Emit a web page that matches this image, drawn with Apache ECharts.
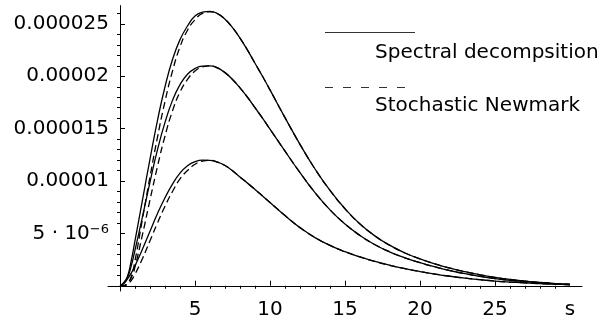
<!DOCTYPE html>
<html><head><meta charset="utf-8">
<script src="https://cdn.jsdelivr.net/npm/echarts@6/dist/echarts.min.js"></script>
<style>html,body{margin:0;padding:0;background:#fff}#c{width:606px;height:320px}</style>
</head><body><div id="c"></div>
<script>
// time axis (s)
const sValues = [0,0.25,0.5,0.75,1,1.5,2,2.5,3,3.5,4,4.5,5,5.5,6,6.5,7,7.5,8,8.5,9,9.5,10,11,12,13,14,15,16,17,18,19,20,21,22,23,24,25,26,27,28,29,30];
// values in units of 1e-6
const spectralTop = [0,0.3,0.9,2.4,4.3,8.2,12.1,15.8,19.0,21.6,23.5,24.8,25.75,26.12,26.2,25.98,25.45,24.65,23.65,22.5,21.25,20.0,18.7,16.05,13.5,11.15,9.1,7.35,5.9,4.75,3.85,3.13,2.56,2.08,1.68,1.34,1.05,0.8,0.6,0.44,0.31,0.21,0.14];
const spectralMid = [0,0.28,0.8,1.9,3.4,6.6,9.9,13.0,15.6,17.7,19.2,20.2,20.75,20.98,21.0,20.8,20.35,19.7,18.9,18.0,17.0,16.0,14.95,12.85,10.8,8.9,7.25,5.9,4.8,3.92,3.22,2.66,2.2,1.8,1.45,1.15,0.9,0.69,0.52,0.39,0.28,0.19,0.12];
const spectralLow = [0,0.2,0.65,1.2,1.9,3.5,5.2,6.9,8.4,9.7,10.75,11.45,11.85,12.0,11.98,11.8,11.48,10.98,10.38,9.8,9.2,8.58,7.95,6.7,5.55,4.6,3.85,3.25,2.75,2.32,1.95,1.63,1.36,1.12,0.91,0.73,0.58,0.45,0.35,0.27,0.2,0.15,0.1];
const newmarkTop = [0,0,0.25,0.9,2.4,6.4,10.4,14.2,17.6,20.5,22.8,24.4,25.4,26.0,26.15,25.98,25.45,24.65,23.65,22.5,21.25,20.0,18.7,16.05,13.5,11.15,9.1,7.35,5.9,4.75,3.85,3.13,2.56,2.08,1.68,1.34,1.05,0.8,0.6,0.44,0.31,0.21,0.14];
const newmarkMid = [0,0,0.25,0.75,1.8,4.9,8.2,11.4,14.3,16.7,18.5,19.7,20.5,20.9,21.0,20.8,20.35,19.7,18.9,18.0,17.0,16.0,14.95,12.85,10.8,8.9,7.25,5.9,4.8,3.92,3.22,2.66,2.2,1.8,1.45,1.15,0.9,0.69,0.52,0.39,0.28,0.19,0.12];
const newmarkLow = [0,0,0.15,0.5,1.1,2.6,4.3,6.0,7.6,9.0,10.2,11.0,11.6,11.9,11.97,11.8,11.48,10.98,10.38,9.8,9.2,8.58,7.95,6.7,5.55,4.6,3.85,3.25,2.75,2.32,1.95,1.63,1.36,1.12,0.91,0.73,0.58,0.45,0.35,0.27,0.2,0.15,0.1];
const UNIT = 1e-6;

const xMajorTicks = [5,10,15,20,25,30];
const xTickLabels = ['5','10','15','20','25','s'];
const yMajorTicks = [5,10,15,20,25];       // in 1e-6
const yTickLabels = ['5 \u00b7 10{sup|\u22126}','0.00001','0.000015','0.00002','0.000025'];
const legendNames = ['Spectral decompsition','Stochastic Newmark'];

const FONT = 'DejaVu Sans';
const xMinor = []; for (let i = 1; i <= 30; i++) if (i % 5 !== 0) xMinor.push(i);
const yMinor = []; for (let i = 1; i <= 26; i++) if (i % 5 !== 0) yMinor.push(i * UNIT);

function pts(arr){ return sValues.map((s,i)=>[s, arr[i]*UNIT]); }
function mk(arr, dashed){
  return {type:'line', data:pts(arr), smooth:0.5, showSymbol:false, symbol:'none',
    lineStyle:{color:'#000', width:1.3, type: dashed ? [7,4] : 'solid'}, silent:true, animation:false,
    xAxisIndex:0, yAxisIndex:0, z: dashed ? 3 : 2};
}

const chart = echarts.init(document.getElementById('c'), null, {renderer:'canvas'});
const baseX = {type:'value', min:-0.8, max:30.8, splitLine:{show:false}};
const baseY = {type:'value', min:-0.5*UNIT, max:26.75*UNIT, splitLine:{show:false}};
chart.setOption({
  animation:false,
  backgroundColor:'#fff',
  grid:{left:108, right:24, top:5.6, bottom:23.7, containLabel:false},
  xAxis:[
    Object.assign({}, baseX, {
      axisLine:{onZero:true, onZeroAxisIndex:0, lineStyle:{color:'#000', width:1}},
      axisTick:{show:true, inside:true, length:5, lineStyle:{color:'#000'}, customValues: xMajorTicks.slice(0,5)},
      axisLabel:{show:true, margin:9, color:'#000', fontFamily:FONT, fontSize:20, customValues: xMajorTicks,
        formatter:function(v){ const i = xMajorTicks.findIndex(t=>Math.abs(t-v)<1e-9); return i<0?'':xTickLabels[i]; }}
    }),
    Object.assign({}, baseX, {
      axisLine:{show:false, onZero:true, onZeroAxisIndex:0},
      axisTick:{show:true, inside:true, length:3, lineStyle:{color:'#000'}, customValues:xMinor},
      axisLabel:{show:false}
    })
  ],
  yAxis:[
    Object.assign({}, baseY, {
      axisLine:{onZero:true, onZeroAxisIndex:0, lineStyle:{color:'#000', width:1}},
      axisTick:{show:true, inside:true, length:5, lineStyle:{color:'#000'}, customValues: yMajorTicks.map(v=>v*UNIT)},
      axisLabel:{show:true, margin:-1, color:'#000', fontFamily:FONT, fontSize:20, customValues: yMajorTicks.map(v=>v*UNIT),
        formatter:function(v){ const i = yMajorTicks.findIndex(t=>Math.abs(t*UNIT-v)<1e-12); return i<0?'':yTickLabels[i]; },
        rich:{sup:{fontSize:13, fontFamily:FONT, color:'#000', verticalAlign:'top', lineHeight:13}}}
    }),
    Object.assign({}, baseY, {
      axisLine:{show:false, onZero:true, onZeroAxisIndex:0},
      axisTick:{show:true, inside:true, length:3, lineStyle:{color:'#000'}, customValues:yMinor},
      axisLabel:{show:false}
    })
  ],
  series:[ mk(spectralTop,false), mk(spectralMid,false), mk(spectralLow,false),
           mk(newmarkTop,true), mk(newmarkMid,true), mk(newmarkLow,true) ],
  graphic:[
    {type:'line', shape:{x1:325,y1:32.5,x2:415,y2:32.5}, style:{stroke:'#333', lineWidth:1}},
    {type:'text', left:375, top:43, style:{text:legendNames[0], fill:'#000', font:'20px "DejaVu Sans"'}},
    {type:'line', shape:{x1:325,y1:87.5,x2:408,y2:87.5}, style:{stroke:'#333', lineWidth:1, lineDash:[8,10]}},
    {type:'text', left:375, top:96, style:{text:legendNames[1], fill:'#000', font:'20px "DejaVu Sans"'}}
  ]
});
</script></body></html>
